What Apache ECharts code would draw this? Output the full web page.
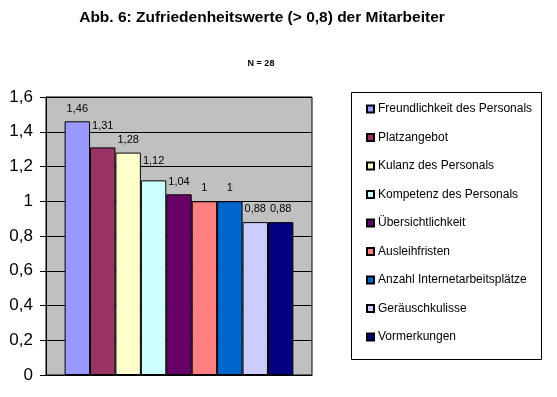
<!DOCTYPE html>
<html>
<head>
<meta charset="utf-8">
<script src="https://cdn.jsdelivr.net/npm/echarts@6/dist/echarts.min.js"></script>
<style>html,body{margin:0;padding:0;background:#fff}#c{width:557px;height:397px}</style>
</head>
<body>
<div id="c"></div>
<script>
const titleText = 'Abb. 6: Zufriedenheitswerte (> 0,8) der Mitarbeiter';
const subtitleText = 'N = 28';
const names = ['Freundlichkeit des Personals','Platzangebot','Kulanz des Personals','Kompetenz des Personals','Übersichtlichkeit','Ausleihfristen','Anzahl Internetarbeitsplätze','Geräuschkulisse','Vormerkungen'];
const values = [1.46, 1.31, 1.28, 1.12, 1.04, 1, 1, 0.88, 0.88];
const colors = ['#9999FF','#993366','#FFFFCC','#CCFFFF','#660066','#FF8080','#0066CC','#CCCCFF','#000080'];
const labelDistances = [7, 16, 7, 14, 7, 8, 8, 8, 8];

const fmt = v => String(v).replace('.', ',');
const chart = echarts.init(document.getElementById('c'), null, {renderer: 'canvas'});
const font = 'Arial, "Liberation Sans", sans-serif';
chart.setOption({
  animation: false,
  textStyle: {fontFamily: font},
  grid: {left: 46, right: 245, top: 97, bottom: 22, show: true, backgroundColor: '#C0C0C0', borderColor: '#000', borderWidth: 1},
  xAxis: {type: 'category', data: [''], axisLine: {lineStyle: {color: '#000'}}, axisTick: {show: false}, axisLabel: {show: false}},
  yAxis: {type: 'value', min: 0, max: 1.6, interval: 0.2,
    axisLine: {show: true, lineStyle: {color: '#000'}},
    axisTick: {show: true, length: 6, lineStyle: {color: '#000'}},
    splitLine: {lineStyle: {color: '#000', width: 1}},
    axisLabel: {color: '#000', fontSize: 17, fontFamily: font, margin: 13, formatter: v => fmt(Math.round(v*10)/10)}},
  legend: {orient: 'vertical', left: 366, top: 102, padding: 0, icon: 'rect', itemWidth: 7, itemHeight: 7, itemGap: 14.5,
    textStyle: {fontSize: 12, color: '#000', lineHeight: 14, padding: [0,0,0,-1], fontFamily: font},
    data: names},
  graphic: [
    {type: 'rect', shape: {x: 351.5, y: 92.5, width: 190, height: 267}, style: {fill: null, stroke: '#000', lineWidth: 1}, z: -1},
    {type: 'text', x: 262, y: 18, style: {text: titleText, font: 'bold 15.5px ' + font, fill: '#000', textAlign: 'center', textVerticalAlign: 'middle'}},
    {type: 'text', x: 261, y: 64, style: {text: subtitleText, font: 'bold 9px ' + font, fill: '#000', textAlign: 'center', textVerticalAlign: 'middle'}}
  ],
  series: names.map((n, i) => ({
    name: n, type: 'bar', data: [values[i]], barGap: '0%', barCategoryGap: '14%',
    itemStyle: {color: colors[i], borderColor: '#000', borderWidth: 1},
    label: {show: true, position: 'top', distance: labelDistances[i], color: '#000', fontSize: 11, fontFamily: font, formatter: p => fmt(p.value)}
  }))
});
</script>
</body>
</html>
